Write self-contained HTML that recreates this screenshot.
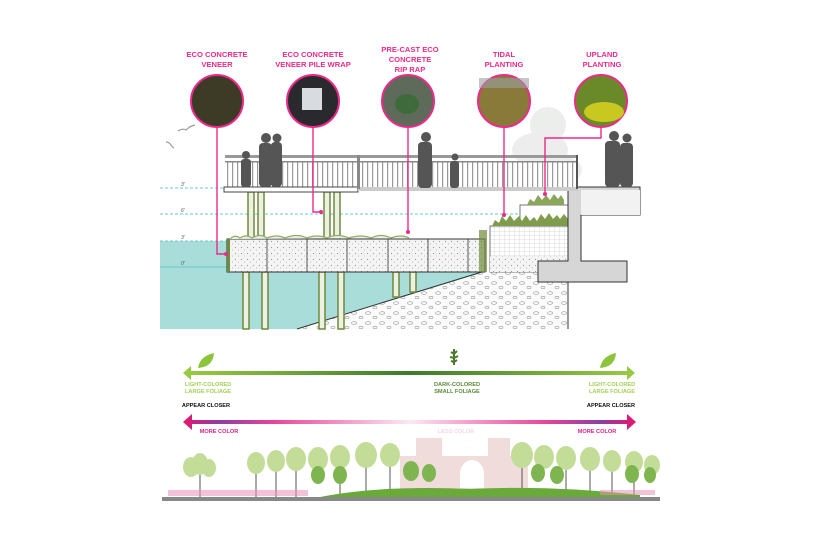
<!DOCTYPE html>
<html><head><meta charset="utf-8"><style>
html,body{margin:0;padding:0;background:#fff;}
svg{display:block;font-family:"Liberation Sans",Arial,sans-serif;}
</style></head><body>
<svg width="818" height="545" viewBox="0 0 818 545" xmlns="http://www.w3.org/2000/svg">
<defs>
<linearGradient id="gg" x1="0" x2="1"><stop offset="0" stop-color="#9bcb45"/><stop offset="0.5" stop-color="#3f7a2a"/><stop offset="1" stop-color="#9bcb45"/></linearGradient>
<linearGradient id="pg" x1="0" x2="1"><stop offset="0" stop-color="#e8166f"/><stop offset="0.08" stop-color="#8a3fa0"/><stop offset="0.2" stop-color="#e8459a"/><stop offset="0.5" stop-color="#fbe8f2"/><stop offset="0.8" stop-color="#e8459a"/><stop offset="0.92" stop-color="#8a3fa0"/><stop offset="1" stop-color="#e8166f"/></linearGradient>
<pattern id="dots" width="6" height="6" patternUnits="userSpaceOnUse"><rect width="6" height="6" fill="#f4f4f4"/><circle cx="1.5" cy="1.5" r="0.6" fill="#999"/><circle cx="4.5" cy="4" r="0.5" fill="#aaa"/></pattern>
<pattern id="rr" width="14" height="10" patternUnits="userSpaceOnUse"><rect width="14" height="10" fill="#fbfbfb"/><ellipse cx="4" cy="3" rx="2.5" ry="1.3" fill="none" stroke="#999" stroke-width="0.6"/><ellipse cx="11" cy="7.5" rx="2" ry="1.2" fill="none" stroke="#999" stroke-width="0.6"/></pattern>
<pattern id="grid" width="5" height="4" patternUnits="userSpaceOnUse"><rect width="5" height="4" fill="#fff"/><path d="M0 4H5M5 0V4" stroke="#bbb" stroke-width="0.5"/></pattern>
<pattern id="bal" width="5" height="30" patternUnits="userSpaceOnUse"><rect width="5" height="30" fill="#fff"/><rect x="2" width="1.2" height="30" fill="#999"/></pattern>
</defs>

<!-- tree in background -->
<g fill="#e6e8e6" opacity="0.75">
<ellipse cx="548" cy="125" rx="18" ry="18"/><ellipse cx="540" cy="150" rx="28" ry="18"/><ellipse cx="560" cy="170" rx="22" ry="14"/>
</g>

<!-- water -->
<rect x="160" y="241" width="325" height="88" fill="#a9ddd9"/>
<polygon points="297,329 485,272 568,272 568,329" fill="url(#rr)"/>
<line x1="297" y1="329" x2="485" y2="271" stroke="#333" stroke-width="1"/>
<g stroke="#6cc7d3" stroke-width="1" stroke-dasharray="3,2">
<line x1="160" y1="188" x2="225" y2="188"/><line x1="160" y1="214" x2="520" y2="214"/><line x1="160" y1="241" x2="485" y2="241"/>
</g>
<line x1="160" y1="267" x2="485" y2="267" stroke="#6cc7d3" stroke-width="1"/>
<g font-size="5" fill="#555" font-style="italic"><text x="181" y="186">3'</text><text x="181" y="212">6'</text><text x="181" y="239">3'</text><text x="181" y="265">0'</text></g>

<g fill="#eef0e4" stroke="#6e8a3a" stroke-width="1.5">
<rect x="248" y="192" width="6" height="48"/><rect x="258" y="192" width="6" height="48"/>
<rect x="324" y="192" width="6" height="48"/><rect x="334" y="192" width="6" height="48"/>
<rect x="243" y="272" width="6" height="57"/><rect x="262" y="272" width="6" height="57"/>
<rect x="319" y="272" width="6" height="57"/><rect x="338" y="272" width="6" height="57"/>
<rect x="393" y="272" width="6" height="25"/><rect x="410" y="272" width="6" height="20"/>
</g>
<rect x="227" y="239" width="258" height="33" fill="url(#dots)" stroke="#333" stroke-width="1"/>
<g stroke="#333" stroke-width="0.8"><line x1="267" y1="239" x2="267" y2="272"/><line x1="307" y1="239" x2="307" y2="272"/><line x1="347" y1="239" x2="347" y2="272"/><line x1="388" y1="239" x2="388" y2="272"/><line x1="428" y1="239" x2="428" y2="272"/><line x1="468" y1="239" x2="468" y2="272"/></g>
<rect x="227" y="239" width="3" height="33" fill="#6e8a3a"/>
<path d="M230 239 q5 -5 10 -1 q6 -4 12 0 q8 -5 15 0 q10 -4 18 0 q12 -5 22 0 q10 -4 20 0 q10 -5 22 0 q12 -4 22 0 q10 -5 20 0 q10 -4 18 0" fill="#eee" stroke="#8ab25a" stroke-width="1.2"/>
<rect x="479" y="230" width="8" height="42" fill="#6e8a3a" opacity="0.7"/>

<rect x="490" y="226" width="78" height="46" fill="url(#grid)" stroke="#555" stroke-width="0.8"/>
<rect x="490" y="256" width="78" height="16" fill="url(#dots)"/>
<rect x="520" y="205" width="48" height="21" fill="#fff" stroke="#555" stroke-width="0.8"/>
<path d="M492 226 l3 -6 l4 3 l3 -7 l4 5 l4 -6 l4 6 l5 -5 l3 5 l4 -6 l4 6 l4 -4 l3 4 l4 -7 l4 5 l4 -6 l4 6 l4 -4 l3 4 l4 -5 l4 5 l3 -6 l4 5 V226z" fill="#7f9c4c"/>
<path d="M527 205 l3 -6 l4 3 l4 -7 l4 5 l4 -5 l4 5 l4 -6 l4 5 l3 -4 l3 5 V205z" fill="#8aa65a"/>

<path d="M568 187 H640 V215 H581 V261 H627 V282 H538 V261 H568 Z" fill="#d6d6d6" stroke="#333" stroke-width="1"/>
<rect x="581" y="190" width="59" height="25" fill="#f2f2f2"/>
<line x1="568" y1="282" x2="568" y2="329" stroke="#333" stroke-width="1"/>

<rect x="225" y="162" width="353" height="26" fill="url(#bal)"/>
<rect x="225" y="155" width="353" height="3" fill="#999"/>
<rect x="225" y="161" width="353" height="1.5" fill="#888"/>
<rect x="224" y="187" width="134" height="5" fill="#fff" stroke="#444" stroke-width="1"/>
<rect x="358" y="187" width="220" height="4" fill="#ccc"/>
<rect x="357" y="155" width="3" height="34" fill="#888"/><rect x="576" y="155" width="2" height="34" fill="#555"/>

<g fill="#555">
<circle cx="246" cy="155" r="4"/><rect x="241" y="159" width="10" height="28" rx="3"/>
<circle cx="266" cy="138" r="5"/><rect x="259" y="143" width="13" height="44" rx="4"/>
<circle cx="277" cy="138" r="4.5"/><rect x="271" y="142" width="11" height="45" rx="4"/>
<circle cx="426" cy="137" r="5"/><rect x="418" y="142" width="14" height="46" rx="4"/>
<circle cx="455" cy="157" r="3.5"/><rect x="450" y="161" width="9" height="27" rx="3"/>
<circle cx="614" cy="136" r="5"/><rect x="605" y="141" width="15" height="46" rx="4"/>
<circle cx="627" cy="138" r="4.5"/><rect x="620" y="143" width="13" height="44" rx="4"/>
</g>
<g stroke="#999" fill="none" stroke-width="1.2"><path d="M178 131 q5 -3 8 -1 q4 -4 9 -5"/><path d="M166 142 q3 0 5 3 q1 2 3 3"/></g>

<g stroke="#ec2a8a" stroke-width="1.4" fill="none">
<path d="M217 127 V254 H226"/><path d="M313 127 V212 H321"/><path d="M408 127 V232"/><path d="M504 127 V215"/><path d="M601 127 V138 H545 V193"/>
</g>
<g fill="#ec2a8a"><circle cx="226" cy="254" r="2"/><circle cx="321" cy="212" r="2"/><circle cx="408" cy="232" r="2"/><circle cx="504" cy="215" r="2"/><circle cx="545" cy="194" r="2"/></g>
<g stroke="#ec2a8a" stroke-width="2">
<circle cx="217" cy="101" r="26" fill="#3d3a26"/><circle cx="313" cy="101" r="26" fill="#2a2a2e"/><circle cx="408" cy="101" r="26" fill="#5e6a5a"/><circle cx="504" cy="101" r="26" fill="#8a7a3a"/><circle cx="601" cy="101" r="26" fill="#6a8a2a"/>
</g>
<rect x="302" y="88" width="20" height="22" fill="#d8dce0"/>
<ellipse cx="407" cy="104" rx="12" ry="10" fill="#3f6a3a"/>
<rect x="479" y="78" width="50" height="10" fill="#9aa0a0" opacity="0.6"/>
<ellipse cx="604" cy="112" rx="20" ry="10" fill="#c8c820"/>
<g font-size="7.6" font-weight="bold" fill="#ec2a8a" text-anchor="middle">
<text x="217" y="57">ECO CONCRETE</text><text x="217" y="67">VENEER</text>
<text x="313" y="57">ECO CONCRETE</text><text x="313" y="67">VENEER PILE WRAP</text>
<text x="410" y="52">PRE-CAST ECO</text><text x="410" y="62">CONCRETE</text><text x="410" y="72">RIP RAP</text>
<text x="504" y="57">TIDAL</text><text x="504" y="67">PLANTING</text>
<text x="602" y="57">UPLAND</text><text x="602" y="67">PLANTING</text>
</g>

<polygon points="183,373 191,366 191,371 627,371 627,366 635,373 627,380 627,375 191,375 191,380" fill="url(#gg)"/>
<path d="M198 368 q2 -12 16 -15 q-1 14 -16 15z" fill="#8cc43c"/><path d="M600 368 q2 -12 16 -15 q-1 14 -16 15z" fill="#8cc43c"/>
<path d="M454 365 l0 -16 M451 352 l3 2 l3 -3 M450 357 l4 1 l4 -2 M451 361 l3 1 l3 -2" stroke="#4a7a2a" stroke-width="2" fill="none"/>
<g font-size="5.6" font-weight="bold" text-anchor="middle">
<text x="208" y="386" fill="#a4cf55">LIGHT-COLORED</text><text x="208" y="393" fill="#a4cf55">LARGE FOLIAGE</text>
<text x="457" y="386" fill="#5a8a3a">DARK-COLORED</text><text x="457" y="393" fill="#5a8a3a">SMALL FOLIAGE</text>
<text x="612" y="386" fill="#a4cf55">LIGHT-COLORED</text><text x="612" y="393" fill="#a4cf55">LARGE FOLIAGE</text>
<text x="206" y="407" fill="#111">APPEAR CLOSER</text><text x="611" y="407" fill="#111">APPEAR CLOSER</text>
<text x="219" y="433" fill="#e0208a">MORE COLOR</text><text x="597" y="433" fill="#e0208a">MORE COLOR</text>
<text x="456" y="433" fill="#f6d6e6">LESS COLOR</text>
</g>
<polygon points="183,422 192,414 192,420 627,420 627,414 636,422 627,430 627,424 192,424 192,430" fill="url(#pg)"/>

<!-- skyline -->
<g fill="#f1dcdc">
<rect x="416" y="438" width="26" height="20"/><rect x="488" y="438" width="22" height="20"/>
<rect x="400" y="456" width="128" height="42"/>
</g>
<path d="M460 488 v-14 a12 14 0 0 1 24 0 v14z" fill="#fff"/>
<g stroke="#555" stroke-width="1">
<line x1="200" y1="470" x2="200" y2="497"/><line x1="256" y1="470" x2="256" y2="497"/><line x1="276" y1="468" x2="276" y2="497"/><line x1="296" y1="466" x2="296" y2="497"/><line x1="340" y1="464" x2="340" y2="497"/><line x1="366" y1="462" x2="366" y2="497"/><line x1="390" y1="462" x2="390" y2="497"/><line x1="522" y1="462" x2="522" y2="497"/><line x1="566" y1="465" x2="566" y2="497"/><line x1="590" y1="466" x2="590" y2="497"/><line x1="612" y1="468" x2="612" y2="497"/><line x1="634" y1="469" x2="634" y2="497"/>
</g>
<g fill="#c3dd98">
<ellipse cx="191" cy="467" rx="8" ry="10"/><ellipse cx="200" cy="464" rx="8" ry="11"/><ellipse cx="209" cy="468" rx="7" ry="9"/>
<ellipse cx="256" cy="463" rx="9" ry="11"/><ellipse cx="276" cy="461" rx="9" ry="11"/><ellipse cx="296" cy="459" rx="10" ry="12"/><ellipse cx="318" cy="459" rx="10" ry="12"/><ellipse cx="340" cy="457" rx="10" ry="12"/><ellipse cx="366" cy="455" rx="11" ry="13"/><ellipse cx="390" cy="455" rx="10" ry="12"/>
<ellipse cx="522" cy="455" rx="11" ry="13"/><ellipse cx="544" cy="457" rx="10" ry="12"/><ellipse cx="566" cy="458" rx="10" ry="12"/><ellipse cx="590" cy="459" rx="10" ry="12"/><ellipse cx="612" cy="461" rx="9" ry="11"/><ellipse cx="634" cy="462" rx="9" ry="11"/><ellipse cx="652" cy="465" rx="8" ry="10"/>
</g>
<g fill="#7fb550"><ellipse cx="318" cy="475" rx="7" ry="9"/><ellipse cx="340" cy="475" rx="7" ry="9"/><ellipse cx="411" cy="471" rx="8" ry="10"/><ellipse cx="429" cy="473" rx="7" ry="9"/><ellipse cx="538" cy="473" rx="7" ry="9"/><ellipse cx="557" cy="475" rx="7" ry="9"/><ellipse cx="632" cy="474" rx="7" ry="9"/><ellipse cx="650" cy="475" rx="6" ry="8"/></g>
<path d="M320 497 q60 -12 150 -8 q80 -4 170 6 v4 H320z" fill="#6aaa3a"/>
<rect x="168" y="490" width="140" height="6" fill="#e890b4" opacity="0.55"/>
<rect x="600" y="490" width="55" height="5" fill="#e890b4" opacity="0.55"/>
<rect x="162" y="497" width="498" height="4" fill="#888"/>
</svg>
</body></html>
